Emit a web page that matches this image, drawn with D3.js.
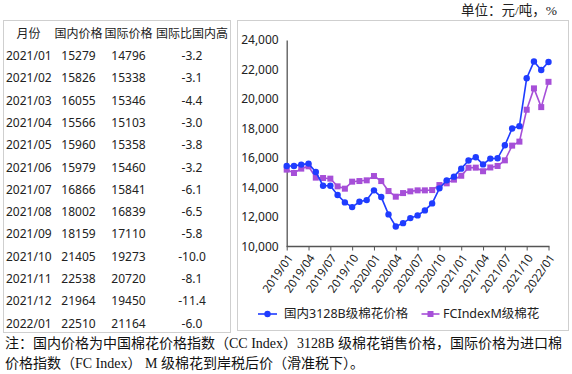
<!DOCTYPE html>
<html>
<head>
<meta charset="utf-8">
<script src="https://cdn.jsdelivr.net/npm/d3@7"></script>
<style>
  body { margin: 0; background: #fff; }
  svg { display: block; }
</style>
</head>
<body>
<div id="chart"></div>
<script>
'use strict';

// ---- data ----
var months = [
    '2019/01','2019/02','2019/03','2019/04','2019/05','2019/06','2019/07','2019/08','2019/09','2019/10','2019/11','2019/12',
    '2020/01','2020/02','2020/03','2020/04','2020/05','2020/06','2020/07','2020/08','2020/09','2020/10','2020/11','2020/12',
    '2021/01','2021/02','2021/03','2021/04','2021/05','2021/06','2021/07','2021/08','2021/09','2021/10','2021/11','2021/12',
    '2022/01'
];
var domestic = [
    15457, 15457, 15552, 15620, 15050, 14123, 14123, 13487, 12990, 12671, 13035, 13147,
    13806, 13351, 12175, 11359, 11584, 11924, 12107, 12447, 12922, 13942, 14486, 14737,
    15279, 15826, 16055, 15566, 15960, 15979, 16866, 18002, 18159, 21405, 22538, 21964,
    22510
];
var international = [
    15212, 14983, 15280, 15437, 14669, 14642, 14600, 14078, 13920, 14396, 14437, 14486,
    14778, 14437, 13758, 13378, 13622, 13738, 13806, 13806, 13826, 14166, 14282, 14533,
    14796, 15338, 15346, 15103, 15358, 15460, 15841, 16839, 17110, 19273, 20720, 19450,
    21164
];
var tickMonths = ['2019/01','2019/04','2019/07','2019/10','2020/01','2020/04','2020/07','2020/10',
                  '2021/01','2021/04','2021/07','2021/10','2022/01'];
var yTicks = [10000, 12000, 14000, 16000, 18000, 20000, 22000, 24000];

var tableHeader = ['月份', '国内价格', '国际价格', '国际比国内高'];
var tableMonths = ['2021/01','2021/02','2021/03','2021/04','2021/05','2021/06','2021/07',
                   '2021/08','2021/09','2021/10','2021/11','2021/12','2022/01'];
var tableDomestic = [15279, 15826, 16055, 15566, 15960, 15979, 16866, 18002, 18159, 21405, 22538, 21964, 22510];
var tableIntl     = [14796, 15338, 15346, 15103, 15358, 15460, 15841, 16839, 17110, 19273, 20720, 19450, 21164];
var tableDiff     = ['-3.2','-3.1','-4.4','-3.0','-3.8','-3.2','-6.1','-6.5','-5.8','-10.0','-8.1','-11.4','-6.0'];

var seriesNames = ['国内3128B级棉花价格', 'FCIndexM级棉花'];
var unitText = '单位：元/吨，%';
var noteLines = [
    '注：国内价格为中国棉花价格指数（CC Index）3128B 级棉花销售价格，国际价格为进口棉',
    '价格指数（FC Index） M 级棉花到岸税后价（滑准税下）。'
];

var blue = '#1f3cff';
var purple = '#a64fd8';
var sansFont = '"Noto Sans", "Noto Sans CJK SC", sans-serif';
var serifFont = '"Liberation Serif", "Noto Sans CJK SC", serif';

var W = 572, H = 374;
var svg = d3.select('#chart').append('svg')
    .attr('width', W)
    .attr('height', H);

// ---- boxes ----
svg.append('rect')
    .attr('x', 3.5).attr('y', 20.5).attr('width', 227).attr('height', 312)
    .attr('fill', 'none').attr('stroke', '#cfcfcf');
svg.append('rect')
    .attr('x', 237.5).attr('y', 20.5).attr('width', 331).attr('height', 310)
    .attr('fill', 'none').attr('stroke', '#cfcfcf');

// ---- unit ----
svg.append('text')
    .attr('x', 557).attr('y', 15)
    .attr('text-anchor', 'end')
    .style('font-family', serifFont)
    .style('font-size', '13.5px')
    .attr('fill', '#222')
    .text(unitText);

// ---- table ----
var colX = [6, 78.5, 128.5, 192];
var rowY = d3.scaleLinear().domain([0, 13]).range([33.7, 323.3]);

var table = svg.append('g')
    .style('font-family', sansFont)
    .style('font-size', '12px')
    .attr('fill', '#222');

table.selectAll('.hdr')
    .data(tableHeader)
    .enter().append('text')
    .attr('class', 'hdr')
    .attr('x', function(d, i) { return i === 0 ? 28.5 : colX[i]; })
    .attr('y', rowY(0))
    .attr('dy', '0.35em')
    .attr('text-anchor', 'middle')
    .text(function(d) { return d; });

var rows = table.selectAll('.row')
    .data(tableMonths)
    .enter().append('g')
    .attr('class', 'row')
    .attr('transform', function(d, i) { return 'translate(0,' + rowY(i + 1) + ')'; });

rows.append('text').attr('x', colX[0]).attr('dy', '0.35em')
    .text(function(d) { return d; });
rows.append('text').attr('x', colX[1]).attr('dy', '0.35em').attr('text-anchor', 'middle')
    .text(function(d, i) { return tableDomestic[i]; });
rows.append('text').attr('x', colX[2]).attr('dy', '0.35em').attr('text-anchor', 'middle')
    .text(function(d, i) { return tableIntl[i]; });
rows.append('text').attr('x', colX[3]).attr('dy', '0.35em').attr('text-anchor', 'middle')
    .text(function(d, i) { return tableDiff[i]; });

// ---- chart ----
var x = d3.scalePoint().domain(months).range([286.7, 548.5]);
var y = d3.scaleLinear().domain([10000, 24000]).range([246.5, 40]);

var xAxis = svg.append('g')
    .attr('transform', 'translate(0,' + y(10000) + ')')
    .call(d3.axisBottom(x).tickValues(tickMonths).tickSize(4).tickSizeOuter(0));
xAxis.select('.domain').attr('stroke', '#555').attr('stroke-width', 1.3)
    .attr('d', 'M' + (x.range()[0]) + ',0H' + (x.range()[1] + 1));
xAxis.selectAll('.tick line').attr('stroke', '#555');
xAxis.selectAll('.tick text')
    .style('font-family', sansFont)
    .style('font-size', '11.5px')
    .attr('fill', '#222')
    .attr('text-anchor', 'end')
    .attr('x', 0).attr('y', 0).attr('dy', '0.35em')
    .attr('transform', 'translate(3,9) rotate(-55)');

var yAxis = svg.append('g')
    .attr('transform', 'translate(' + x.range()[0] + ',0)')
    .call(d3.axisLeft(y).tickValues(yTicks).tickSize(0).tickPadding(8).tickFormat(d3.format(',')));
yAxis.select('.domain').attr('stroke', '#555').attr('stroke-width', 1.3);
yAxis.selectAll('.tick text')
    .style('font-family', sansFont)
    .style('font-size', '12px')
    .attr('fill', '#222');

var line = d3.line()
    .x(function(d, i) { return x(months[i]); })
    .y(function(d) { return y(d); });

svg.append('path')
    .datum(international)
    .attr('d', line)
    .attr('fill', 'none')
    .attr('stroke', purple)
    .attr('stroke-width', 1.6);

svg.selectAll('.sq')
    .data(international)
    .enter().append('rect')
    .attr('class', 'sq')
    .attr('x', function(d, i) { return x(months[i]) - 3; })
    .attr('y', function(d) { return y(d) - 3; })
    .attr('width', 6).attr('height', 6)
    .attr('fill', purple);

svg.append('path')
    .datum(domestic)
    .attr('d', line)
    .attr('fill', 'none')
    .attr('stroke', blue)
    .attr('stroke-width', 1.6);

svg.selectAll('.dot')
    .data(domestic)
    .enter().append('circle')
    .attr('class', 'dot')
    .attr('cx', function(d, i) { return x(months[i]); })
    .attr('cy', function(d) { return y(d); })
    .attr('r', 3.2)
    .attr('fill', blue);

// ---- legend ----
var legend = svg.append('g')
    .style('font-family', sansFont)
    .style('font-size', '12.5px')
    .attr('fill', '#222');

var lg1 = legend.append('g').attr('transform', 'translate(258,314)');
lg1.append('line').attr('x1', 0).attr('x2', 19).attr('stroke', blue).attr('stroke-width', 1.6);
lg1.append('circle').attr('cx', 9.5).attr('r', 3.2).attr('fill', blue);
lg1.append('text').attr('x', 26).attr('dy', '0.35em').text(seriesNames[0]);

var lg2 = legend.append('g').attr('transform', 'translate(421.5,314)');
lg2.append('line').attr('x1', 0).attr('x2', 18).attr('stroke', purple).attr('stroke-width', 1.6);
lg2.append('rect').attr('x', 6).attr('y', -3).attr('width', 6).attr('height', 6).attr('fill', purple);
lg2.append('text').attr('x', 21.5).attr('dy', '0.35em').text(seriesNames[1]);

// ---- note ----
svg.selectAll('.note')
    .data(noteLines)
    .enter().append('text')
    .attr('class', 'note')
    .attr('x', 5)
    .attr('y', function(d, i) { return 343 + i * 20; })
    .attr('dy', '0.35em')
    .style('font-family', serifFont)
    .style('font-size', '14px')
    .attr('fill', '#111')
    .text(function(d) { return d; });
</script>
</body>
</html>
